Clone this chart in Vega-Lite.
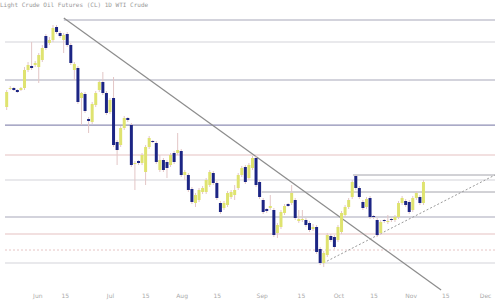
{
  "$schema": "https://vega.github.io/schema/vega-lite/v6.json",
  "width": 500,
  "height": 300,
  "autosize": {"type": "none"},
  "padding": 0,
  "background": "white",
  "config": {"view": {"stroke": null}},
  "title": {"text": "Light Crude Oil Futures (CL)  1D  WTI Crude", "anchor": "start", "frame": "group", "offset": -8, "fontSize": 6, "fontWeight": "normal", "color": "#999999", "font": "DejaVu Sans Mono"},
  "datasets": {
    "candles": [
      {"i":0,"o":69.3,"h":71.0,"l":69.0,"c":70.8},
      {"i":1,"o":71.1,"h":71.4,"l":71.0,"c":71.2},
      {"i":2,"o":71.2,"h":71.3,"l":70.9,"c":71.0},
      {"i":3,"o":71.0,"h":71.1,"l":70.7,"c":70.8},
      {"i":4,"o":71.0,"h":71.3,"l":70.9,"c":71.2},
      {"i":5,"o":71.2,"h":73.3,"l":71.0,"c":73.0},
      {"i":6,"o":73.0,"h":73.8,"l":72.8,"c":73.5},
      {"i":7,"o":73.4,"h":75.8,"l":73.0,"c":73.2},
      {"i":8,"o":73.5,"h":73.9,"l":73.3,"c":73.7},
      {"i":9,"o":73.3,"h":74.7,"l":71.7,"c":74.5},
      {"i":10,"o":74.0,"h":75.5,"l":73.8,"c":75.2},
      {"i":11,"o":76.4,"h":76.6,"l":75.0,"c":75.2},
      {"i":12,"o":75.7,"h":76.3,"l":75.5,"c":76.0},
      {"i":13,"o":76.0,"h":77.5,"l":75.8,"c":77.2},
      {"i":14,"o":77.3,"h":77.5,"l":76.6,"c":76.8},
      {"i":15,"o":76.7,"h":76.9,"l":76.2,"c":76.4},
      {"i":16,"o":76.0,"h":76.7,"l":74.7,"c":76.5},
      {"i":17,"o":76.6,"h":76.8,"l":75.3,"c":75.5},
      {"i":18,"o":75.5,"h":75.7,"l":73.5,"c":73.7},
      {"i":19,"o":73.0,"h":73.8,"l":72.0,"c":73.6},
      {"i":20,"o":73.2,"h":73.4,"l":69.6,"c":69.8},
      {"i":21,"o":70.2,"h":70.8,"l":67.5,"c":70.7},
      {"i":22,"o":70.6,"h":70.8,"l":68.7,"c":68.9},
      {"i":23,"o":68.1,"h":68.3,"l":66.7,"c":67.9},
      {"i":24,"o":67.8,"h":69.8,"l":67.6,"c":69.6},
      {"i":25,"o":69.5,"h":70.9,"l":69.3,"c":70.7},
      {"i":26,"o":71.0,"h":72.0,"l":70.8,"c":71.8},
      {"i":27,"o":71.8,"h":72.8,"l":70.5,"c":70.7},
      {"i":28,"o":70.7,"h":70.9,"l":68.5,"c":68.7},
      {"i":29,"o":68.8,"h":70.2,"l":68.6,"c":70.0},
      {"i":30,"o":70.2,"h":72.3,"l":65.3,"c":65.5},
      {"i":31,"o":65.8,"h":66.0,"l":63.5,"c":65.0},
      {"i":32,"o":65.5,"h":67.4,"l":65.3,"c":67.2},
      {"i":33,"o":67.2,"h":68.4,"l":67.0,"c":68.2},
      {"i":34,"o":68.2,"h":68.3,"l":67.8,"c":68.0},
      {"i":35,"o":67.5,"h":67.7,"l":63.3,"c":63.5},
      {"i":36,"o":63.6,"h":63.9,"l":61.0,"c":63.7},
      {"i":37,"o":63.9,"h":64.0,"l":63.5,"c":63.7},
      {"i":38,"o":63.7,"h":64.7,"l":63.5,"c":64.5},
      {"i":39,"o":62.8,"h":65.5,"l":61.5,"c":65.3},
      {"i":40,"o":65.3,"h":66.4,"l":65.1,"c":66.2},
      {"i":41,"o":65.9,"h":66.0,"l":65.7,"c":65.8},
      {"i":42,"o":65.7,"h":65.9,"l":63.6,"c":63.8},
      {"i":43,"o":63.0,"h":64.5,"l":62.8,"c":64.0},
      {"i":44,"o":64.0,"h":64.2,"l":62.8,"c":63.0},
      {"i":45,"o":63.8,"h":64.0,"l":62.2,"c":63.2},
      {"i":46,"o":63.5,"h":64.7,"l":63.3,"c":64.5},
      {"i":47,"o":64.7,"h":64.9,"l":63.6,"c":63.8},
      {"i":48,"o":64.7,"h":66.7,"l":64.5,"c":65.0},
      {"i":49,"o":64.9,"h":65.1,"l":62.3,"c":62.5},
      {"i":50,"o":62.5,"h":63.0,"l":62.0,"c":62.8},
      {"i":51,"o":62.5,"h":62.7,"l":60.8,"c":61.0},
      {"i":52,"o":61.1,"h":61.3,"l":59.6,"c":59.8},
      {"i":53,"o":59.7,"h":60.7,"l":59.3,"c":60.5},
      {"i":54,"o":60.0,"h":61.2,"l":59.8,"c":61.0},
      {"i":55,"o":60.8,"h":61.4,"l":60.6,"c":61.2},
      {"i":56,"o":60.8,"h":62.2,"l":60.6,"c":62.0},
      {"i":57,"o":61.5,"h":63.0,"l":61.3,"c":62.8},
      {"i":58,"o":62.7,"h":62.9,"l":61.5,"c":61.7},
      {"i":59,"o":61.7,"h":61.9,"l":60.0,"c":60.2},
      {"i":60,"o":59.7,"h":59.9,"l":58.6,"c":58.8},
      {"i":61,"o":59.2,"h":59.9,"l":59.0,"c":59.7},
      {"i":62,"o":59.5,"h":60.9,"l":59.3,"c":60.7},
      {"i":63,"o":60.3,"h":61.0,"l":60.1,"c":60.8},
      {"i":64,"o":60.5,"h":61.5,"l":60.0,"c":61.0},
      {"i":65,"o":61.2,"h":62.7,"l":61.0,"c":62.5},
      {"i":66,"o":62.5,"h":63.4,"l":62.3,"c":63.2},
      {"i":67,"o":63.3,"h":63.5,"l":61.6,"c":61.8},
      {"i":68,"o":62.2,"h":63.7,"l":62.0,"c":63.5},
      {"i":69,"o":63.2,"h":64.4,"l":63.0,"c":64.2},
      {"i":70,"o":64.2,"h":64.4,"l":61.3,"c":61.5},
      {"i":71,"o":61.8,"h":62.0,"l":60.1,"c":60.3},
      {"i":72,"o":60.0,"h":60.2,"l":58.6,"c":58.8},
      {"i":73,"o":59.1,"h":59.2,"l":58.7,"c":58.9},
      {"i":74,"o":59.2,"h":60.5,"l":59.0,"c":59.4},
      {"i":75,"o":59.0,"h":59.2,"l":56.3,"c":56.5},
      {"i":76,"o":56.7,"h":57.7,"l":56.2,"c":57.5},
      {"i":77,"o":57.3,"h":59.0,"l":57.1,"c":58.8},
      {"i":78,"o":58.7,"h":59.6,"l":58.5,"c":59.4},
      {"i":79,"o":59.6,"h":59.7,"l":59.3,"c":59.4},
      {"i":80,"o":59.7,"h":61.5,"l":59.5,"c":60.7},
      {"i":81,"o":60.0,"h":60.2,"l":58.0,"c":58.2},
      {"i":82,"o":57.9,"h":59.0,"l":57.7,"c":58.1},
      {"i":83,"o":58.0,"h":59.0,"l":57.8,"c":58.1},
      {"i":84,"o":58.0,"h":58.2,"l":57.3,"c":57.5},
      {"i":85,"o":57.7,"h":57.9,"l":56.8,"c":57.0},
      {"i":86,"o":57.1,"h":57.6,"l":56.9,"c":57.3},
      {"i":87,"o":57.3,"h":57.5,"l":54.6,"c":54.8},
      {"i":88,"o":55.1,"h":55.3,"l":53.5,"c":53.7},
      {"i":89,"o":53.7,"h":54.9,"l":53.3,"c":54.7},
      {"i":90,"o":54.5,"h":56.7,"l":54.3,"c":56.5},
      {"i":91,"o":56.4,"h":56.6,"l":55.8,"c":56.0},
      {"i":92,"o":56.3,"h":56.5,"l":55.1,"c":55.3},
      {"i":93,"o":56.0,"h":57.5,"l":55.8,"c":57.3},
      {"i":94,"o":56.8,"h":58.9,"l":56.6,"c":58.7},
      {"i":95,"o":58.5,"h":59.5,"l":58.3,"c":59.3},
      {"i":96,"o":59.3,"h":60.2,"l":59.1,"c":60.0},
      {"i":97,"o":60.3,"h":62.0,"l":60.1,"c":61.8},
      {"i":98,"o":62.4,"h":62.5,"l":61.0,"c":61.2},
      {"i":99,"o":61.2,"h":61.4,"l":60.1,"c":60.3},
      {"i":100,"o":59.8,"h":60.0,"l":59.0,"c":59.2},
      {"i":101,"o":59.3,"h":60.3,"l":59.1,"c":60.1},
      {"i":102,"o":60.2,"h":60.4,"l":58.1,"c":58.3},
      {"i":103,"o":58.4,"h":58.5,"l":58.1,"c":58.3},
      {"i":104,"o":58.0,"h":58.2,"l":56.3,"c":56.5},
      {"i":105,"o":56.7,"h":58.0,"l":56.5,"c":57.8},
      {"i":106,"o":58.0,"h":58.1,"l":57.7,"c":57.9},
      {"i":107,"o":57.8,"h":58.5,"l":57.6,"c":57.9},
      {"i":108,"o":58.1,"h":58.2,"l":57.8,"c":58.0},
      {"i":109,"o":58.0,"h":58.5,"l":57.8,"c":58.3},
      {"i":110,"o":58.3,"h":59.9,"l":58.1,"c":59.7},
      {"i":111,"o":59.7,"h":60.4,"l":59.5,"c":60.2},
      {"i":112,"o":59.9,"h":60.1,"l":59.3,"c":59.5},
      {"i":113,"o":59.8,"h":60.0,"l":58.6,"c":58.8},
      {"i":114,"o":59.0,"h":60.4,"l":58.8,"c":60.2},
      {"i":115,"o":60.2,"h":60.9,"l":60.0,"c":60.7},
      {"i":116,"o":60.3,"h":60.5,"l":59.5,"c":59.7},
      {"i":117,"o":59.7,"h":62.0,"l":59.5,"c":61.8}
    ],
    "levels": [
      {"p":78.0,"a":16.04,"b":137.08,"kind":"major"},
      {"p":75.8,"a":-0.47,"b":137.08,"kind":"faint"},
      {"p":72.0,"a":-0.47,"b":137.08,"kind":"major"},
      {"p":67.5,"a":-0.47,"b":137.08,"kind":"strong"},
      {"p":64.5,"a":-0.47,"b":137.08,"kind":"pink"},
      {"p":62.0,"a":-0.47,"b":137.08,"kind":"faint"},
      {"p":62.5,"a":97.2,"b":137.08,"kind":"dark"},
      {"p":60.8,"a":71.6,"b":137.08,"kind":"dark"},
      {"p":58.3,"a":-0.47,"b":137.08,"kind":"major"},
      {"p":56.6,"a":-0.47,"b":137.08,"kind":"pink"},
      {"p":53.7,"a":-0.47,"b":137.08,"kind":"faint"}
    ],
    "dotted": [
      {"p":55.0,"a":-0.47,"b":137.08}
    ],
    "trend": [
      {"a":16.04,"pa":78.2,"b":121.95,"pb":51.0}
    ],
    "support": [
      {"a":88.9,"pa":53.7,"b":137.08,"pb":62.5}
    ]
  },
  "encoding": {
    "x": {
      "type": "quantitative",
      "scale": {"domain": [-0.47, 137.08], "nice": false, "zero": false},
      "axis": {
        "title": null, "domain": false, "ticks": false, "grid": false, "offset": -10,
        "values": [8.6, 16.3, 29, 38.9, 49.1, 59, 71.6, 82.6, 93.1, 103, 113.4, 123.1, 134.3],
        "labelExpr": "datum.value==8.6?'Jun':datum.value==29?'Jul':datum.value==49.1?'Aug':datum.value==71.6?'Sep':datum.value==93.1?'Oct':datum.value==113.4?'Nov':datum.value==134.3?'Dec':'15'",
        "labelFontSize": 6, "labelColor": "#aaaaaa", "labelPadding": 2, "labelOverlap": false, "labelFlush": false, "labelFont": "DejaVu Sans"
      }
    }
  },
  "layer": [
    {
      "data": {"name": "levels"},
      "mark": {"type": "rule"},
      "encoding": {
        "x": {"field": "a", "type": "quantitative"},
        "x2": {"field": "b"},
        "y": {"field": "p", "type": "quantitative", "scale": {"domain": [50, 80], "nice": false, "zero": false}, "axis": null},
        "color": {"field": "kind", "type": "nominal", "legend": null,
          "scale": {"domain": ["major", "faint", "strong", "pink", "dark"], "range": ["#c4c4d0", "#e2e2e6", "#8e8eb4", "#e6c2c2", "#a4a4ac"]}},
        "strokeWidth": {"field": "kind", "type": "nominal", "legend": null,
          "scale": {"domain": ["major", "faint", "strong", "pink", "dark"], "range": [1.5, 1, 2, 1, 1.2]}}
      }
    },
    {
      "data": {"name": "dotted"},
      "mark": {"type": "rule", "color": "#e6c4c4", "strokeDash": [2, 2], "strokeWidth": 1},
      "encoding": {
        "x": {"field": "a", "type": "quantitative"},
        "x2": {"field": "b"},
        "y": {"field": "p", "type": "quantitative"}
      }
    },
    {
      "data": {"name": "trend"},
      "mark": {"type": "rule", "color": "#8c8c8c", "strokeWidth": 1.2},
      "encoding": {
        "x": {"field": "a", "type": "quantitative"},
        "x2": {"field": "b"},
        "y": {"field": "pa", "type": "quantitative"},
        "y2": {"field": "pb"}
      }
    },
    {
      "data": {"name": "support"},
      "mark": {"type": "rule", "color": "#9a9a9a", "strokeWidth": 1, "strokeDash": [2, 2]},
      "encoding": {
        "x": {"field": "a", "type": "quantitative"},
        "x2": {"field": "b"},
        "y": {"field": "pa", "type": "quantitative"},
        "y2": {"field": "pb"}
      }
    },
    {
      "data": {"name": "candles"},
      "mark": {"type": "rule", "color": "#e3c6c6", "strokeWidth": 1},
      "encoding": {
        "x": {"field": "i", "type": "quantitative"},
        "y": {"field": "l", "type": "quantitative"},
        "y2": {"field": "h"}
      }
    },
    {
      "data": {"name": "candles"},
      "mark": {"type": "bar", "width": 3},
      "encoding": {
        "x": {"field": "i", "type": "quantitative"},
        "y": {"field": "o", "type": "quantitative"},
        "y2": {"field": "c"},
        "color": {"condition": {"test": "datum.c >= datum.o", "value": "#dfe370"}, "value": "#1c2584"}
      }
    }
  ]
}
